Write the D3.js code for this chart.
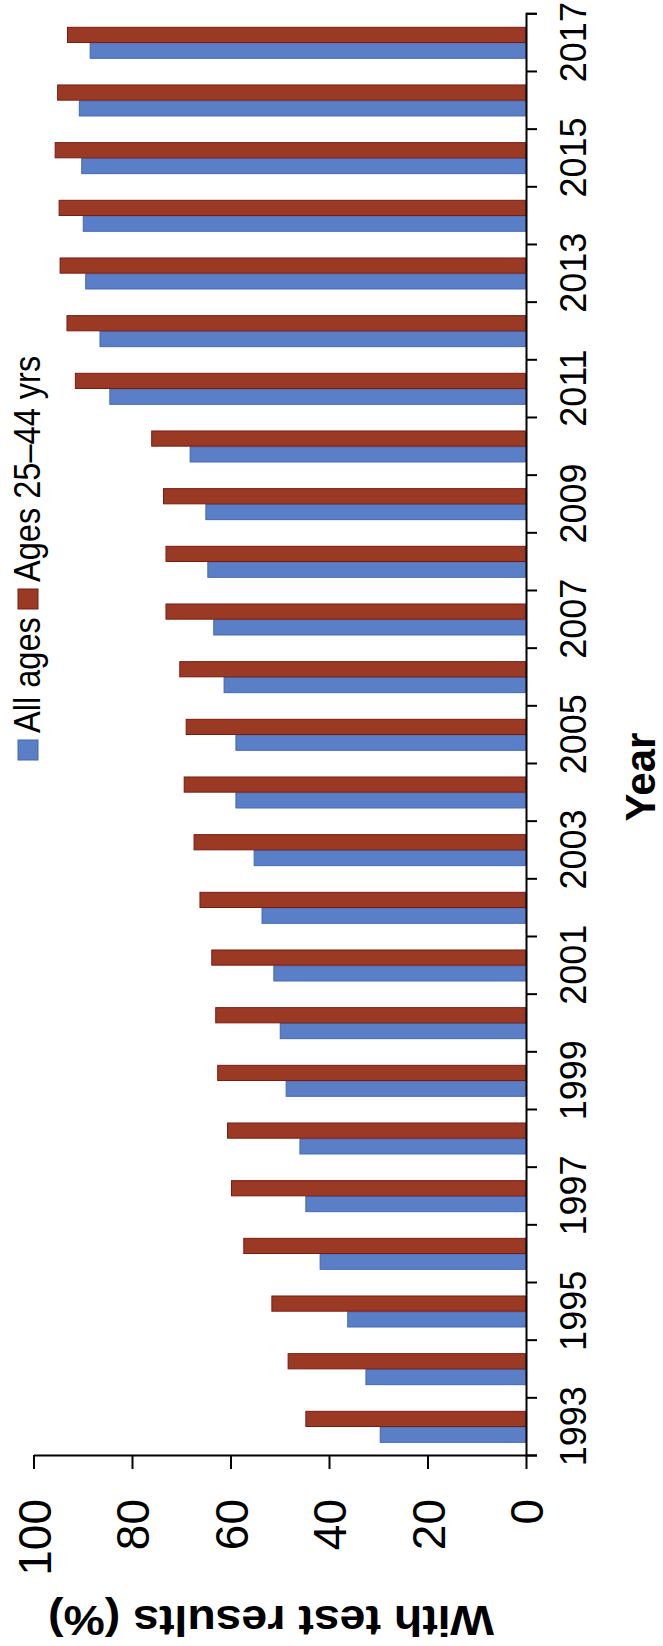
<!DOCTYPE html>
<html><head><meta charset="utf-8">
<script src="https://cdn.jsdelivr.net/npm/d3@7"></script>
<style>body{margin:0;background:#fff}svg{display:block}text{font-family:"Liberation Sans",Arial,sans-serif;fill:#000}</style>
</head><body>
<svg id="c" width="663" height="1646"></svg>
<script>
const years = [1993,1994,1995,1996,1997,1998,1999,2000,2001,2002,2003,2004,2005,2006,2007,2008,2009,2010,2011,2012,2013,2014,2015,2016,2017];
const allAges = [29.6,32.5,36.2,41.8,44.7,45.9,48.7,49.9,51.2,53.6,55.2,58.9,58.9,61.3,63.4,64.6,65.0,68.2,84.5,86.5,89.4,89.9,90.2,90.7,88.5];
const ages2544 = [44.7,48.3,51.6,57.3,59.8,60.6,62.6,63.0,63.8,66.2,67.4,69.4,69.0,70.3,73.1,73.1,73.6,76.0,91.5,93.2,94.6,94.8,95.6,95.1,93.1];
const valueTicks = [0,20,40,60,80,100];
const labelYears = [1993,1995,1997,1999,2001,2003,2005,2007,2009,2011,2013,2015,2017];
const seriesNames = ["All ages","Ages 25\u201344 yrs"];
const colors = {fill:["#5b7fc6","#9a3a24"], stroke:["#4169b4","#7a1b10"]};

const svg = d3.select("#c");
const x0 = 526, xTop = 33.5, yBot = 1455, yTop = 13.3;
const x = d3.scaleLinear().domain([0,100]).range([x0,xTop]);
const yb = d3.scaleBand().domain(years).range([yBot,yTop]).padding(0);
const sub = d3.scaleBand().domain([1,0]).range([14,45]).paddingInner(0.04);
const yLin = d3.scaleLinear().domain([1992.5,2017.5]).range([yBot,yTop]);

// bars
const data = years.map((yr,i)=>({yr, v:[allAges[i],ages2544[i]]}));
const g = svg.append("g");
[0,1].forEach(s=>{
  g.selectAll(null).data(data).enter().append("rect")
    .attr("x",d=>x(d.v[s]))
    .attr("width",d=>x(0)-x(d.v[s]))
    .attr("y",d=>yb(d.yr)+sub(s))
    .attr("height",sub.bandwidth())
    .attr("fill",colors.fill[s]).attr("stroke",colors.stroke[s]).attr("stroke-width",1);
});

// value axis
const ax = svg.append("g").attr("transform",`translate(0,${yBot})`)
  .call(d3.axisBottom(x).tickValues(valueTicks).tickSize(14).tickSizeOuter(0));
ax.select(".domain").attr("stroke","#000").attr("stroke-width",2);
ax.selectAll(".tick line").attr("stroke","#000").attr("stroke-width",2);
ax.selectAll(".tick text").attr("font-size",46).attr("y",null).attr("dy","0.36em")
  .attr("text-anchor","end").attr("transform","translate(0,44) rotate(-90)");

// category axis ticks at boundaries
const cb = svg.append("g").attr("transform",`translate(${x0},0)`)
  .call(d3.axisRight(yLin).tickValues(d3.range(1992.5,2018,1)).tickSize(11).tickFormat(""));
cb.select(".domain").attr("stroke","#000").attr("stroke-width",2);
cb.selectAll(".tick line").attr("stroke","#000").attr("stroke-width",2);

// year labels
const cl = svg.append("g").attr("transform",`translate(${x0},0)`)
  .call(d3.axisRight(yb).tickValues(labelYears).tickSize(0));
cl.select(".domain").remove();
cl.selectAll(".tick text").attr("font-size",36).attr("x",null).attr("dy",null)
  .attr("text-anchor","middle").attr("transform","translate(60,0) rotate(-90)");

// axis titles
svg.append("text").attr("transform",`translate(655,777) rotate(-90)`)
  .attr("text-anchor","middle").attr("font-size",42).attr("font-weight","bold").text("Year");
svg.append("text").attr("transform",`translate(271,1606) rotate(180) scale(1.08,1)`)
  .attr("text-anchor","middle").attr("font-size",43).attr("font-weight","bold").text("With test results (%)");

// legend
const leg = [{c:0, sy:740, ty:733},{c:1, sy:589, ty:582}];
leg.forEach(l=>{
  svg.append("rect").attr("x",18).attr("y",l.sy).attr("width",20).attr("height",20)
    .attr("fill",colors.fill[l.c]).attr("stroke",colors.stroke[l.c]);
  svg.append("text").attr("transform",`translate(40,${l.ty}) rotate(-90) scale(0.88,1)`)
    .attr("font-size",37).attr("text-anchor","start").text(seriesNames[l.c]);
});
</script>
</body></html>
